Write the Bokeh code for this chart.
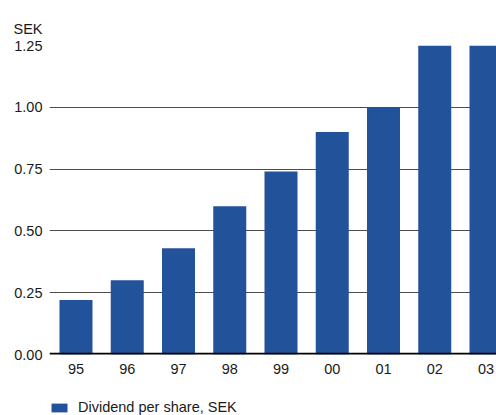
from bokeh.plotting import figure
from bokeh.layouts import column
from bokeh.models import (Range1d, FixedTicker, PrintfTickFormatter, Span,
                          Legend, LegendItem, ColumnDataSource)
from bokeh.embed import file_html
from bokeh.resources import INLINE

years = ["95", "96", "97", "98", "99", "00", "01", "02", "03"]
dividend = [0.22, 0.30, 0.43, 0.60, 0.74, 0.90, 1.00, 1.25, 1.25]
y_ticks = [0.0, 0.25, 0.50, 0.75, 1.00, 1.25]
unit_label = "SEK"
legend_label = "Dividend per share, SEK"

FONT = "Liberation Sans"
FS = "14.5px"
BAR = "#22539a"
TXT = "#1a1a1a"

xs = list(range(len(years)))
src = ColumnDataSource(dict(x=xs, top=dividend))

p = figure(width=496, height=380, output_backend="svg", toolbar_location=None,
           x_range=Range1d(-0.517, 8.205), y_range=Range1d(0, 1.25),
           min_border_left=49, min_border_right=0, min_border_top=45,
           min_border_bottom=26)
p.outline_line_color = None

r = p.vbar(x="x", top="top", width=0.644, bottom=0, source=src,
           fill_color=BAR, line_color=None)

# axes
p.xaxis.ticker = FixedTicker(ticks=xs)
p.xaxis.major_label_overrides = {i: y for i, y in enumerate(years)}
p.yaxis.ticker = FixedTicker(ticks=y_ticks)
p.yaxis.formatter = PrintfTickFormatter(format="%.2f")
for ax in (p.xaxis[0], p.yaxis[0]):
    ax.axis_line_color = None
    ax.major_tick_line_color = None
    ax.minor_tick_line_color = None
    ax.major_tick_out = 0
    ax.major_tick_in = 0
    ax.major_label_text_font = FONT
    ax.major_label_text_font_size = FS
    ax.major_label_text_color = TXT
p.xaxis.major_label_standoff = 9
p.yaxis.major_label_standoff = 7

p.xgrid.grid_line_color = None
p.ygrid.ticker = FixedTicker(ticks=y_ticks)
p.ygrid.grid_line_color = "#4d4d4d"
p.ygrid.grid_line_width = 1

p.add_layout(Span(location=0, dimension="width", line_color="black",
                  line_width=3.5, level="overlay"))

p.title.text = unit_label
p.title.align = "left"
p.title.offset = -36
p.title.text_font = FONT
p.title.text_font_size = FS
p.title.text_font_style = "normal"
p.title.text_color = TXT
p.title.standoff = 18

# legend strip
q = figure(width=496, height=35, output_backend="svg", toolbar_location=None,
           x_range=Range1d(0, 1), y_range=Range1d(0, 1),
           min_border_left=48, min_border_right=0, min_border_top=0,
           min_border_bottom=0)
q.axis.visible = False
q.grid.visible = False
q.outline_line_color = None
rq = q.vbar(x=[-10], top=[0], width=1, fill_color=BAR, line_color=None)
legend = Legend(items=[LegendItem(label=legend_label, renderers=[rq])],
                location=(0, 0), orientation="horizontal",
                border_line_color=None, background_fill_alpha=0,
                padding=0, spacing=0, margin=0,
                glyph_width=20, glyph_height=11, label_standoff=9,
                label_height=15,
                label_text_font=FONT, label_text_font_size=FS,
                label_text_color=TXT)
q.add_layout(legend)

layout = column(p, q, spacing=0)
open("out.html", "w").write(file_html(layout, INLINE))
